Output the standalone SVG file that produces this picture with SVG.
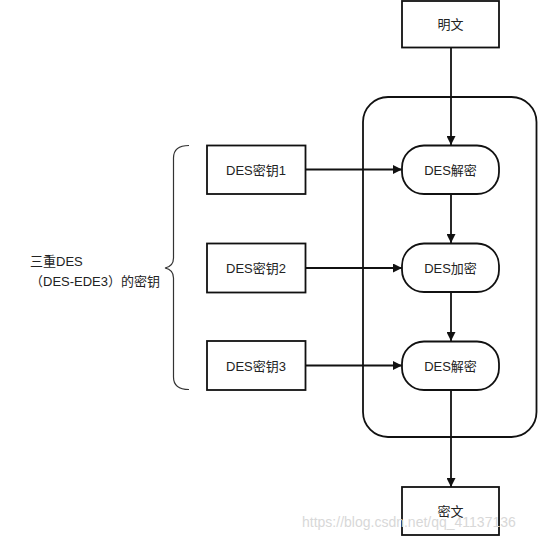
<svg xmlns="http://www.w3.org/2000/svg" width="554" height="539" viewBox="0 0 554 539">
<defs>
<style>
.box{fill:#fff;stroke:#111;stroke-width:1.8}
.t{font-family:"Liberation Sans","Noto Sans CJK SC",sans-serif;font-size:13px;fill:#222;text-anchor:middle;dominant-baseline:central}
.lbl{font-family:"Liberation Sans","Noto Sans CJK SC",sans-serif;font-size:13px;fill:#222}
.c{fill:none;stroke:#111;stroke-width:1.8}
.wm{font-family:"Liberation Sans",sans-serif;font-size:14px;fill:#d8d8d8}
</style>
<marker id="ah" viewBox="0 0 10 10" refX="10" refY="5" markerWidth="11" markerHeight="9" markerUnits="userSpaceOnUse" orient="auto">
<path d="M0,0 L10,5 L0,10 Z" fill="#111"/>
</marker>
</defs>
<rect width="554" height="539" fill="#fff"/>
<g id="container"><rect class="box" x="363" y="97" width="173.5" height="340" rx="25"/></g>
<g id="connectors">
<line class="c" x1="451" y1="47.5" x2="451" y2="145" marker-end="url(#ah)"/>
<line class="c" x1="451" y1="194" x2="451" y2="243" marker-end="url(#ah)"/>
<line class="c" x1="451" y1="292" x2="451" y2="341" marker-end="url(#ah)"/>
<line class="c" x1="451" y1="390" x2="451" y2="487" marker-end="url(#ah)"/>
<line class="c" x1="306" y1="169.5" x2="402" y2="169.5" marker-end="url(#ah)"/>
<line class="c" x1="306" y1="268" x2="402" y2="268" marker-end="url(#ah)"/>
<line class="c" x1="306" y1="365.5" x2="402" y2="365.5" marker-end="url(#ah)"/>
</g>
<g id="plaintext"><rect class="box" x="402" y="1" width="97" height="46.5"/><text class="t" x="450.5" y="24">明文</text></g>
<g id="ciphertext"><rect class="box" x="402" y="487" width="97" height="48"/><text class="t" x="450.5" y="511">密文</text></g>
<g id="dec1"><rect class="box" x="402" y="145.5" width="97" height="48.5" rx="22"/><text class="t" x="450.5" y="170">DES解密</text></g>
<g id="enc"><rect class="box" x="402" y="243.5" width="97" height="48.5" rx="22"/><text class="t" x="450.5" y="268">DES加密</text></g>
<g id="dec2"><rect class="box" x="402" y="341.5" width="97" height="48.5" rx="22"/><text class="t" x="450.5" y="366">DES解密</text></g>
<g id="key1"><rect class="box" x="207" y="145.5" width="98.5" height="48.5"/><text class="t" x="256" y="170">DES密钥1</text></g>
<g id="key2"><rect class="box" x="207" y="243.5" width="98.5" height="49"/><text class="t" x="256" y="268">DES密钥2</text></g>
<g id="key3"><rect class="box" x="207" y="341" width="98.5" height="49"/><text class="t" x="256" y="366">DES密钥3</text></g>
<g id="brace"><path d="M189,145.5 C179,145.5 173.5,149 173.5,158 L173.5,258 C173.5,264 170,267 165,268 C170,269 173.5,272 173.5,278 L173.5,377 C173.5,386 179,389.5 189,389.5" fill="none" stroke="#333" stroke-width="1.2"/></g>
<g id="label">
<text class="lbl" x="30" y="266">三重DES</text>
<text class="lbl" x="30" y="286">（DES-EDE3）的密钥</text>
</g>
<text class="wm" x="302" y="527">https://blog.csdn.net/qq_41137136</text>
</svg>
